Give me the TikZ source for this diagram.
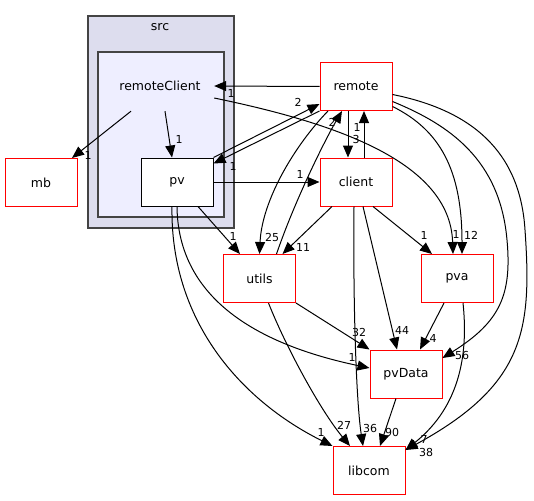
\documentclass[tikz,border=0pt]{standalone}
\usepackage{fontspec}
\setmainfont{DejaVu Sans}
\usetikzlibrary{arrows.meta}

\definecolor{srcfill}{HTML}{DDDDEE}
\definecolor{rcfill}{HTML}{EEEEFF}
\definecolor{clborder}{HTML}{444444}

\begin{document}
\begin{tikzpicture}[x=1pt,y=-1pt]
  \tikzset{dir/.style = {shape=rectangle,draw=red,line width=1pt,fill=white,minimum width=72pt,minimum height=48pt,font=\fontsize{12.5pt}{15pt}\selectfont}} % 디렉터리 노드
  \tikzset{dep/.style = {line width=1pt,-{Triangle[length=12pt,width=10pt]}}} % 의존 간선
  \tikzset{num/.style = {inner sep=0pt,font=\fontsize{11pt}{13pt}\selectfont}} % 간선 숫자

  \useasboundingbox (0,0) rectangle (534,500);

  % 클러스터
  \draw[fill=srcfill, draw=clborder, line width=1.3pt] (88,16) rectangle (234,228);
  \draw[fill=rcfill, draw=clborder, line width=1.3pt] (98,52) rectangle (224,217);
  \node[font=\fontsize{12.5pt}{15pt}\selectfont] (src) at (160,27) {src};
  \node[minimum width=108pt, minimum height=50pt, font=\fontsize{12.5pt}{15pt}\selectfont] (remoteClient) at (160,86) {remoteClient};

  % 노드들
  \node[dir, draw=black] (pv) at (177,182) {pv};
  \node[dir] (mb) at (41,182.5) {mb};
  \node[dir] (remote) at (356,86.5) {remote};
  \node[dir] (client) at (356,182) {client};
  \node[dir] (utils) at (259.5,278.5) {utils};
  \node[dir] (pva) at (457,278.5) {pva};
  \node[dir] (pvData) at (406,374) {pvData};
  \node[dir] (libcom) at (369,470.5) {libcom};

  % 간선들
  \draw[dep] (remote.west) -- (remoteClient.east);
  \draw[dep] ([xshift=-29pt]remoteClient.south) -- ([xshift=31pt]mb.north);
  \draw[dep] ([xshift=5pt]remoteClient.south) -- ([xshift=-5pt]pv.north);
  \draw[dep] ([yshift=-12pt]remoteClient.east) .. controls (330,122) and (450,160) .. ([xshift=-4pt]pva.north);
  \draw[dep] (pv.north east) -- ([yshift=-17.5pt]remote.west);
  \draw[dep] (remote.south west) -- ([yshift=-6pt]pv.north east);
  \draw[dep] (pv.east) -- (client.west);
  \draw[dep] ([xshift=21pt]pv.south) -- ([xshift=-19.5pt]utils.north);
  \draw[dep] (pv.south) .. controls (178,300) and (260,345) .. ([yshift=6pt]pvData.west);
  \draw[dep] ([xshift=-5pt]pv.south) .. controls (170,320) and (240,400) .. (libcom.north west);
  \draw[dep] ([xshift=-8pt]remote.south) -- ([xshift=-8pt]client.north);
  \draw[dep] ([xshift=8pt]client.north) -- ([xshift=8pt]remote.south);
  \draw[dep] ([xshift=17pt]utils.north) .. controls (295,200) and (325,140) .. ([xshift=-14pt]remote.south);
  \draw[dep] ([xshift=-28pt]remote.south) .. controls (295,145) and (262,200) .. (utils.north);
  \draw[dep] ([xshift=-24pt]client.south) -- ([xshift=23pt]utils.north);
  \draw[dep] ([xshift=17pt]client.south) -- ([xshift=-25pt]pva.north);
  \draw[dep] ([yshift=-20pt]remote.east) .. controls (440,130) and (462,170) .. ([xshift=5pt]pva.north);
  \draw[dep] ([yshift=-15pt]remote.east) .. controls (450,125) and (500,160) .. (507,240) .. controls (512,295) and (500,322) .. ([yshift=16pt]pvData.east);
  \draw[dep] ([yshift=-8pt]remote.east) .. controls (470,110) and (520,150) .. (525,230) .. controls (532,330) and (525,385) .. ([yshift=-4pt]libcom.north east);
  \draw[dep] ([xshift=6pt]pva.south) .. controls (468,350) and (462,405) .. ([yshift=-4pt]libcom.north east);
  \draw[dep] ([xshift=-13pt]pva.south) -- ([xshift=14pt]pvData.north);
  \draw[dep] ([xshift=7pt]client.south) -- ([xshift=-9pt]pvData.north);
  \draw[dep] ([xshift=-2pt]client.south) .. controls (353,300) and (356,400) .. ([xshift=-6pt]libcom.north);
  \draw[dep] (utils.south east) -- (pvData.north west);
  \draw[dep] ([xshift=9pt]utils.south) .. controls (285,345) and (320,410) .. ([xshift=-19pt]libcom.north);
  \draw[dep] ([xshift=-10pt]pvData.south) -- ([xshift=11pt]libcom.north);

  % 숫자들
  \node[num] (n1) at (231,93) {1};
  \node[num] (n2) at (88,155) {1};
  \node[num] (n3) at (179,139) {1};
  \node[num] (n4) at (456,234) {1};
  \node[num] (n5) at (298,102) {2};
  \node[num] (n6) at (233,166) {1};
  \node[num] (n7) at (300,174) {1};
  \node[num] (n8) at (233,236) {1};
  \node[num] (n9) at (352,357) {1};
  \node[num] (n10) at (321,432) {1};
  \node[num] (n11) at (356,139) {3};
  \node[num] (n12) at (357,127) {1};
  \node[num] (n13) at (332,122) {2};
  \node[num] (n14) at (272,237) {25};
  \node[num] (n15) at (303,247) {11};
  \node[num] (n16) at (424,235) {1};
  \node[num] (n17) at (471,235) {12};
  \node[num] (n18) at (462,355) {56};
  \node[num] (n19) at (426,452) {38};
  \node[num] (n20) at (424,439.5) {7};
  \node[num] (n21) at (433,338) {4};
  \node[num] (n22) at (402,330) {44};
  \node[num] (n23) at (370,428) {36};
  \node[num] (n24) at (359,332) {32};
  \node[num] (n25) at (344,425) {27};
  \node[num] (n26) at (392,432) {90};

\end{tikzpicture}
\end{document}
